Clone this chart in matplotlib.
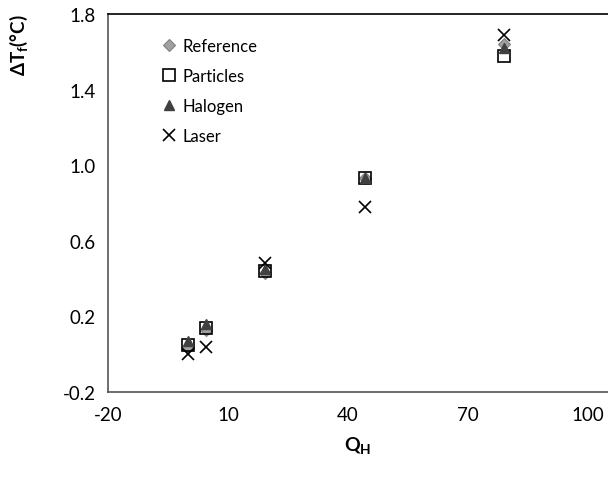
import matplotlib
matplotlib.use('Agg')
from matplotlib import pyplot as plt

plt.rcParams['font.family'] = ['Lato', 'DejaVu Sans']
plt.rcParams['mathtext.fontset'] = 'custom'
plt.rcParams['mathtext.rm'] = 'Lato'
plt.rcParams['mathtext.bf'] = 'Lato:bold'
plt.rcParams['axes.unicode_minus'] = False

# Heat flux Q_H and temperature rise for each method
q_h = [0, 4.5, 19.3, 44.3, 79]
dt_reference = [0.04, 0.13, 0.43, 0.93, 1.64]
dt_particles = [0.05, 0.14, 0.44, 0.93, 1.58]
dt_halogen = [0.07, 0.16, 0.45, 0.93, 1.62]
dt_laser = [0.0, 0.04, 0.48, 0.78, 1.69]

x_ticks = [-20, 10, 40, 70, 100]
y_ticks = [-0.2, 0.2, 0.6, 1.0, 1.4, 1.8]

fig = plt.figure(figsize=(6.08, 4.85), dpi=100)
ax = fig.add_axes([108/608, 1-393/485, 1-108/608, (393-15)/485])

ax.plot(q_h, dt_reference, ls='none', marker='D', ms=6.5, mfc='#a0a0a0', mec='#808080', mew=0.8, label='Reference')
ax.plot(q_h, dt_particles, ls='none', marker='s', ms=8.5, mfc='none', mec='black', mew=1.2, label='Particles')
ax.plot(q_h, dt_halogen, ls='none', marker='^', ms=7.5, mfc='#404040', mec='#404040', label='Halogen')
ax.plot(q_h, dt_laser, ls='none', marker='x', ms=9, mec='black', mew=1.2, label='Laser')

ax.set_xlim(-20, 105)
ax.set_ylim(-0.2, 1.8)
ax.set_xticks(x_ticks)
ax.set_xticklabels([str(v) for v in x_ticks])
ax.set_yticks(y_ticks)
ax.set_yticklabels(['{:.1f}'.format(v) for v in y_ticks])
ax.tick_params(length=0, labelsize=13.5)
ax.tick_params(axis='x', pad=10)
ax.tick_params(axis='y', pad=9)
ax.spines['right'].set_visible(False)
for s in ['left', 'top', 'bottom']:
    ax.spines[s].set_color('#555555')
    ax.spines[s].set_linewidth(1.2)
ax.spines['top'].set_color('black')

ax.set_xlabel(r'$\mathbf{Q_H}$', fontsize=14, labelpad=8)
ax.set_ylabel(r'$\mathbf{\Delta T_f}$' + '(°C)', fontsize=13.5, fontweight='bold')
ax.yaxis.set_label_coords(-0.155, 0.92)

ax.legend(loc='upper left', bbox_to_anchor=(0.095, 0.955), frameon=False, fontsize=12,
          handlelength=0.8, handletextpad=0.4, labelspacing=0.85, borderaxespad=0)

fig.savefig('out.png', dpi=100)
